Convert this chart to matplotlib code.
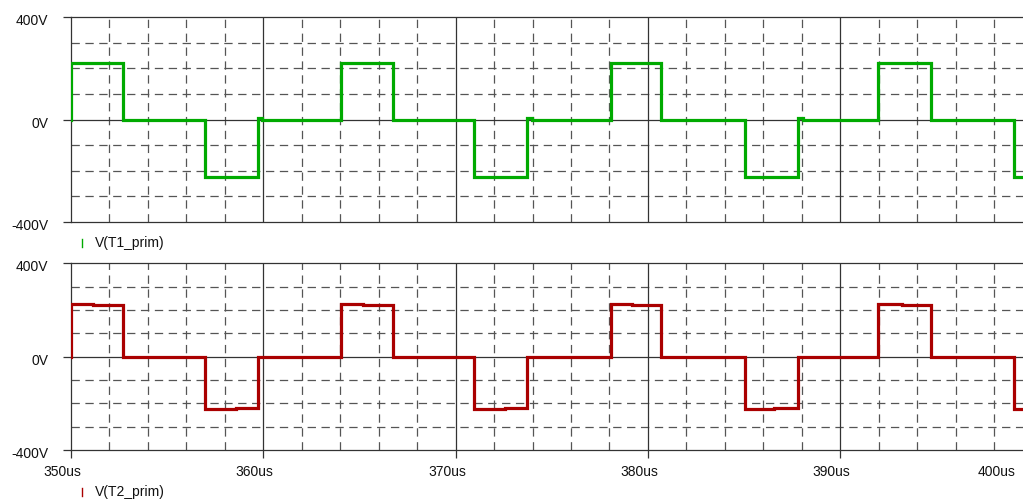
import matplotlib
matplotlib.use("Agg")
import matplotlib.pyplot as plt
from matplotlib.lines import Line2D
from matplotlib.transforms import ScaledTranslation

plt.rcParams['font.family'] = ['Liberation Sans', 'DejaVu Sans']
plt.rcParams['lines.scale_dashes'] = False

# ---- data (time in us, voltage in V; value holds until next time) ----
t1_times = [350.0, 350.0, 352.70, 356.97, 359.72, 359.95, 364.04, 366.74, 370.96,
            373.71, 373.95, 378.07, 380.70, 385.05, 387.80, 388.05, 391.98,
            394.70, 399.05, 399.60]
t1_volts = [0, 223, -3, -224, 5, 0, 223, -3, -224,
            5, 0, 223, -3, -224, 5, 0, 223,
            -3, -224, -224]

t2_times = [350.0, 350.0, 351.16, 352.70, 356.97, 358.58, 359.72, 364.04, 365.20,
            366.74, 370.96, 372.55, 373.71, 378.07, 379.15, 380.70, 385.05,
            386.56, 387.80, 391.98, 393.20, 394.70, 399.05, 399.60]
t2_volts = [0, 226, 220, 0, -226, -220, 0, 226, 220,
            0, -226, -220, 0, 226, 220, 0, -226,
            -220, 0, 226, 220, 0, -226, -226]

x_major = [350, 360, 370, 380, 390]
x_major_labels = ['350us', '360us', '370us', '380us', '390us']
x_minor = [352, 354, 356, 358, 362, 364, 366, 368, 372, 374, 376, 378,
           382, 384, 386, 388, 392, 394, 396, 398]
y_major = [-400, 0, 400]
y_major_labels = ['-400V', '0V', '400V']
y_minor = [-300, -200, -100, 100, 200, 300]

series_names = ['V(T1_prim)', 'V(T2_prim)']
series_colors = ['#00aa00', '#aa0000']

W, H = 1023, 500
fig = plt.figure(figsize=(W / 100, H / 100), dpi=100)

def frac_box(left_px, top_px, right_px, bottom_px):
    return [left_px / W, 1 - bottom_px / H, (right_px - left_px) / W, (bottom_px - top_px) / H]

ax1 = fig.add_axes(frac_box(71, 17.3, 1023, 221.7))
ax2 = fig.add_axes(frac_box(71, 263.3, 1023, 450))

grid_col = '#333333'
dash_col = '#555555'
xmax = 350 + (1023 - 71) / 19.23

for ax, times, volts, col in [(ax1, t1_times, t1_volts, series_colors[0]),
                              (ax2, t2_times, t2_volts, series_colors[1])]:
    ax.set_xlim(350, xmax)
    ax.set_ylim(-400, 400)
    for xv in x_minor:
        ax.axvline(xv, color=dash_col, lw=0.9, ls=(0, (6, 4)), zorder=1)
    for yv in y_minor:
        ax.axhline(yv, color=dash_col, lw=0.9, ls=(0, (6, 4)), zorder=1)
    for xv in x_major[1:]:
        ax.axvline(xv, color=grid_col, lw=0.9, zorder=1)
    ax.axhline(0, color=grid_col, lw=0.9, zorder=1)
    ax.plot(times, volts, drawstyle='steps-post', color=col, lw=2.3,
            solid_joinstyle='miter', zorder=3)
    for s in ['top', 'bottom', 'left']:
        ax.spines[s].set_color(grid_col)
        ax.spines[s].set_linewidth(0.9)
    ax.spines['right'].set_visible(False)
    ax.set_yticks(y_major)
    ax.set_yticklabels(y_major_labels)
    ax.tick_params(axis='y', length=5.8, width=0.9, color=grid_col, pad=10.5,
                   labelsize=10, labelcolor='#111111')
    for lab in ax.get_yticklabels():
        lab.set_transform(lab.get_transform() + ScaledTranslation(0, -0.025, fig.dpi_scale_trans))

ax1.set_xticks(x_major)
ax1.tick_params(axis='x', length=0, labelbottom=False)

ax2.set_xticks(x_major)
ax2.set_xticklabels(x_major_labels)
ax2.tick_params(axis='x', length=5.8, width=0.9, color=grid_col, pad=5,
                labelsize=10, labelcolor='#111111')
for lab in ax2.get_xticklabels():
    lab.set_transform(lab.get_transform() + ScaledTranslation(-0.085, 0, fig.dpi_scale_trans))

fig.text(996.3 / W, 1 - 471.7 / H, '400us', ha='center', va='center',
         fontsize=10, color='#111111')

# legends
for name, col, ypx in [(series_names[0], series_colors[0], 243),
                       (series_names[1], series_colors[1], 491.7)]:
    fig.add_artist(Line2D([82.3 / W, 82.3 / W], [1 - (ypx - 4) / H, 1 - (ypx + 4) / H],
                          color=col, lw=1.0, transform=fig.transFigure))
    fig.text(95 / W, 1 - ypx / H, name, ha='left', va='center', fontsize=10,
             color='#111111')

fig.savefig('out.png', dpi=100)
